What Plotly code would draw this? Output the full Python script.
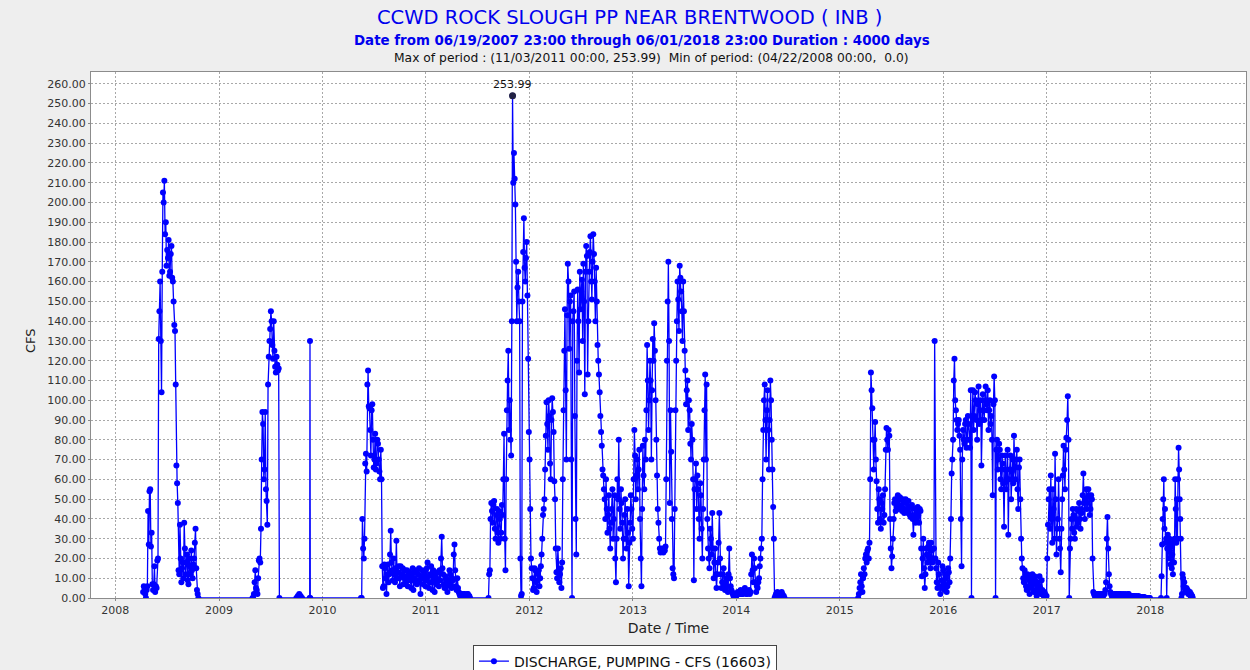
import pandas as pd
import plotly.graph_objects as go

# pumping record, one value every 2.5 days (2 days for spring 2018)
seg_2008_start, seg_2008_step = "2008-04-08", "60h"
cfs_2008 = [3, 6, 5, 2, 0, 4, 6, 44, 27, 54, 55, 26, 33, 7, 4, 7, 16, 3, 6, 5,
            19, 20, 131, 145, 160, 130, 104, 165, 205, 200, 211, 184, 190, 168, 176, 172, 181, 163, 165, 174,
            178, 162, 160, 150, 138, 135, 108, 67, 58, 48, 14, 12, 37, 20, 8, 15, 18, 10, 38, 25,
            12, 18, 22, 9, 7, 20, 16, 12, 24, 14, 10, 17, 20, 28, 35, 15, 4, 2, 0]

seg_2009_start, seg_2009_step = "2009-04-29", "60h"
cfs_2009 = [0, 0, 2, 8, 14, 5, 4, 2, 10, 19, 20, 18, 35, 70, 94, 88, 60, 65, 94, 55,
            49, 37, 108, 122, 130, 136, 145, 140, 128, 121, 140, 125, 117, 114, 122, 118, 115, 116, 0]

seg_2009b_start, seg_2009b_step = "2009-10-01", "5D"
cfs_2009b = [0, 1, 2, 1, 0]

seg_2009c_start, seg_2009c_step = "2009-11-17", "1D"
cfs_2009c = [0, 130, 0]

seg_2010_start, seg_2010_step = "2010-05-17", "60h"
cfs_2010 = [0, 0, 40, 25, 20, 30, 68, 73, 64, 108, 115, 97, 96, 85, 72, 95, 98, 80, 66, 70,
            83, 65, 68, 80, 78, 70, 64, 60, 75, 60, 16, 5, 6, 17, 15, 10, 2, 12, 17, 8,
            12, 22, 34, 18, 14, 9, 20, 12, 8, 15, 29, 10, 13, 16, 10, 6, 16, 11, 12, 15,
            7, 10, 14, 8, 11, 14, 6, 9, 13, 11, 9, 5, 12, 15, 4, 9, 10, 14, 13, 7,
            8, 12, 15, 9, 2, 10, 11, 14, 7, 12, 13, 6, 9, 15, 18, 11, 5, 8, 12, 16,
            8, 4, 14, 10, 3, 12, 10, 7, 13, 9, 6, 14, 9, 20, 31, 15, 12, 7, 5, 11,
            10, 6, 3, 9, 8, 14, 12, 7, 5, 10, 9, 22, 27, 14, 6, 4, 10, 5, 3, 2,
            1, 2, 2, 1, 1, 2, 2, 1, 1, 1, 2, 2, 1, 1, 0]

seg_2011_start, seg_2011_step = "2011-08-10", "60h"
cfs_2011 = [0, 12,
            14, 40, 48, 44, 38, 47, 49, 35, 30, 42, 45, 33, 28, 44, 40, 30, 33, 47, 42, 60,
            83, 30, 14, 60, 95, 110, 125, 85, 100, 80, 72, 140, 253.99, 210, 225, 212, 199, 170, 140, 157,
            165, 150, 140, 20, 1, 2, 150, 175, 192, 167, 160, 172, 180, 153, 121, 84, 70, 45, 20, 15,
            10, 4, 5, 15, 14, 8, 3, 9, 12, 14, 6, 10, 16, 22, 30, 42, 45, 50, 65, 82,
            99, 88, 75, 100, 92, 68, 60, 90, 101, 94, 84, 59, 50, 25, 13, 10, 25, 14, 8, 12,
            15, 5, 18, 60, 95, 125, 146, 105, 70, 143, 169, 160, 126, 150, 153, 70, 0, 140, 145, 155,
            92, 40, 22, 120, 156, 140, 114, 165, 146, 155, 161, 130, 169, 150, 103, 165, 178, 173, 113, 140,
            165, 175, 183, 160, 151, 170, 184, 174, 160, 140, 167, 150, 128, 120, 113, 104, 92, 84, 77, 65,
            62, 55, 50, 40, 60, 45, 33, 42, 52, 35, 25, 38, 45, 55, 30, 40, 52, 20, 8, 30,
            60, 50, 80, 45, 35, 55, 48, 38, 20, 30, 42, 50, 30, 25, 45, 33, 6, 28, 38, 52,
            45, 35, 30, 60, 85, 72, 50, 62, 70, 55, 65, 75, 40, 20, 6, 45, 77, 62, 55, 80,
            70, 95, 128, 110, 85, 100, 120, 110, 70, 105, 131, 120, 139, 125, 100, 80, 62, 45, 38, 30,
            25, 23, 24, 25, 24, 23, 25, 24, 26, 60, 120, 150, 170, 130, 48, 95, 74, 40, 15, 12,
            10, 45, 95, 120, 140, 160, 151, 135, 168, 162, 155, 145, 130, 160, 145, 125, 115, 98, 105, 110,
            85, 100, 95, 78, 70, 88, 80, 60, 9, 55, 60, 68, 45, 62, 55, 40, 30, 58, 52, 35,
            20, 45, 70, 95, 113, 70, 108, 40, 25, 20, 15, 35, 30, 22, 43, 25, 10, 18, 25, 12,
            5, 12, 18, 28, 43, 20, 12, 5, 8, 12, 15, 7, 4, 8, 10, 6, 3, 12, 25, 10,
            6, 4, 3, 2, 1, 2, 2, 1, 1, 2, 3, 2, 2, 3, 4, 2, 2, 2, 3, 4,
            5, 3, 2, 2, 3, 3, 4, 2, 3, 12, 22, 14, 8, 20, 15, 8, 3, 6, 5, 8,
            10, 16, 20, 25, 30, 60, 85, 100, 108, 90, 70, 95, 105, 85, 65, 90, 110, 100, 80, 65,
            46, 30, 0, 1, 2, 2, 3, 2, 0, 1, 2, 2, 3, 2, 1, 1, 0]

seg_2015_start, seg_2015_step = "2015-03-07", "60h"
cfs_2015 = [0, 2,
            5, 8, 12, 6, 3, 10, 15, 12, 20, 22, 18, 24, 25, 20, 28, 60, 114, 105, 96, 80,
            65, 80, 89, 70, 59, 45, 38, 55, 50, 40, 35, 48, 45, 52, 38, 42, 55, 75, 86, 80,
            75, 85, 82, 40, 25, 15, 21, 30, 40, 48, 50, 44, 46, 50, 52, 45, 47, 51, 50, 46,
            44, 50, 49, 43, 45, 50, 48, 44, 43, 49, 46, 42, 41, 46, 47, 40, 32, 42, 45, 38,
            40, 44, 46, 42, 38, 45, 44, 25, 11, 20, 30, 15, 5, 12, 25, 22, 18, 26, 28, 20,
            15, 28, 24, 18, 20, 25, 130, 20, 15, 8, 5, 18, 12, 6, 2, 5, 9, 16, 14, 7,
            4, 12, 10, 3, 6, 15, 13, 8, 20, 40, 63, 70, 80, 110, 121, 100, 95, 90, 85, 88,
            90, 82, 75, 40, 16, 70, 85, 80, 78, 88, 90, 76, 80, 92, 88, 80, 76, 105, 0, 92,
            105, 85, 92, 104, 100, 90, 80, 98, 107, 88, 95, 100, 67, 90, 103, 95, 90, 100, 107, 98,
            95, 105, 85, 95, 100, 88, 92, 80, 52, 98, 112, 100, 0, 75, 80, 65, 70, 78, 75, 60,
            55, 72, 68, 58, 36, 65, 72, 55, 60, 75, 32, 60, 65, 72, 50, 64, 70, 58, 82, 66,
            60, 70, 75, 55, 45, 66, 70, 50, 30, 20, 15, 10, 8, 14, 12, 6, 4, 12, 10, 5,
            2, 10, 8, 5, 12, 7, 3, 11, 9, 4, 1, 8, 6, 3, 11, 5, 2, 9, 4, 2,
            1, 3, 2, 1, 1, 20, 37, 50, 55, 35, 62, 40, 28, 55, 45, 30, 73, 50, 22, 35,
            40, 60, 30, 25, 13, 35, 50, 62, 77, 65, 55, 75, 81, 90, 102, 80, 0, 25, 30, 40,
            35, 45, 42, 33, 30, 40, 45, 36, 38, 44, 48, 40, 35, 45, 43, 52, 63, 48, 40, 50,
            55, 45, 48, 55, 52, 42, 45, 52, 50, 20, 3, 2, 1, 2, 2, 1, 1, 2, 2, 1,
            1, 2, 2, 1, 1, 2, 2, 4, 8, 30, 41, 25, 12, 6, 3, 2, 1, 2, 1, 1,
            2, 1, 2, 2, 1, 1, 2, 2, 1, 2, 1, 1, 2, 1, 1, 2, 1, 1, 1, 2,
            2, 1, 1, 1, 1, 1, 0.5, 1, 1, 0.5, 0.5, 1, 0.5, 0.5, 1, 0.5, 0.5, 0.5, 0.5, 0.5,
            0.5, 0.5, 0.5, 0, 0, 0, 0, 0, 0, 0, 0]

seg_2018_start, seg_2018_step = "2018-02-08", "2D"
cfs_2018 = [0, 11, 27, 40, 50, 60, 35, 45, 28, 30, 0, 25, 32, 28, 20, 30, 24, 17, 26, 15,
            22, 12, 28, 18, 30, 60, 45, 28, 50, 30, 60, 76, 65, 50, 40, 30, 0, 2, 12, 10,
            6, 8, 5, 4, 3, 5, 3, 4, 2, 3, 2, 3, 1, 2, 1, 1, 0]

segments = [
    (seg_2008_start, seg_2008_step, cfs_2008),
    (seg_2009_start, seg_2009_step, cfs_2009),
    (seg_2009b_start, seg_2009b_step, cfs_2009b),
    (seg_2009c_start, seg_2009c_step, cfs_2009c),
    (seg_2010_start, seg_2010_step, cfs_2010),
    (seg_2011_start, seg_2011_step, cfs_2011),
    (seg_2015_start, seg_2015_step, cfs_2015),
    (seg_2018_start, seg_2018_step, cfs_2018),
]

parts = []
for start, step, vals in segments:
    idx = pd.date_range(start, periods=len(vals), freq=step)
    parts.append(pd.Series(vals, index=idx))
df = pd.concat(parts)

peak_date = df.idxmax()
peak_val = df.max()

blue = "#0000FF"
fig = go.Figure()
fig.add_trace(go.Scatter(
    x=df.index, y=df.values, mode="lines+markers",
    name="DISCHARGE, PUMPING - CFS (16603)",
    line=dict(color=blue, width=1.3),
    marker=dict(color=blue, size=6),
))
fig.add_trace(go.Scatter(
    x=[peak_date], y=[peak_val], mode="markers", showlegend=False,
    marker=dict(color="#222244", size=7),
))
fig.add_annotation(x=peak_date, y=peak_val, text=f"{peak_val:.2f}", showarrow=False,
                   yshift=11, font=dict(family="DejaVu Sans", size=11, color="#111"))

title_font = "DejaVu Sans, sans-serif"
fig.add_annotation(xref="paper", yref="paper", x=0.466, y=1.1027, showarrow=False,
                   xanchor="center", yanchor="middle",
                   text="CCWD ROCK SLOUGH PP NEAR BRENTWOOD ( INB )",
                   font=dict(family=title_font, size=19.5, color="#0000EE"))
fig.add_annotation(xref="paper", yref="paper", x=0.477, y=1.0608, showarrow=False,
                   xanchor="center", yanchor="middle",
                   text="<b>Date from 06/19/2007 23:00 through 06/01/2018 23:00 Duration : 4000 days</b>",
                   font=dict(family=title_font, size=13.4, color="#0000EE"))
fig.add_annotation(xref="paper", yref="paper", x=0.485, y=1.0266, showarrow=False,
                   xanchor="center", yanchor="middle",
                   text="Max of period : (11/03/2011 00:00, 253.99)  Min of period: (04/22/2008 00:00,  0.0)",
                   font=dict(family=title_font, size=12.3, color="#111"))
fig.add_annotation(xref="paper", yref="paper", x=-0.053, y=0.49, showarrow=False,
                   xanchor="center", yanchor="middle",
                   text="CFS", textangle=-90,
                   font=dict(family="DejaVu Sans", size=13, color="#222"))

grid = dict(showgrid=True, gridcolor="#a8a8a8", gridwidth=1, griddash="2px,2px",
            showline=True, linecolor="#8c8c8c", linewidth=1, mirror=True,
            ticks="outside", ticklen=2, tickcolor="#888", zeroline=False,
            tickfont=dict(family="DejaVu Sans", size=11, color="#333"))

fig.update_xaxes(type="date", range=["2007-10-07", "2018-12-05"], dtick="M12",
                 tick0="2008-01-01", tickformat="%Y",
                 title=dict(text="Date / Time", standoff=6,
                            font=dict(family="DejaVu Sans", size=14, color="#222")),
                 **grid)
fig.update_yaxes(range=[0, 266], dtick=10, tick0=0, tickformat=".2f", **grid)

fig.update_layout(
    width=1250, height=670,
    margin=dict(l=91, r=4, t=72, b=72, autoexpand=False),
    paper_bgcolor="#EEEEEE", plot_bgcolor="white",
    showlegend=True,
    legend=dict(orientation="h", x=0.4623, xanchor="center", y=-0.0885, yanchor="top",
                bgcolor="white", bordercolor="#444", borderwidth=1,
                font=dict(family="DejaVu Sans", size=14, color="#111"),
                itemwidth=30, tracegroupgap=0),
)

# the page body has an 8px default margin; drop it so the figure sits at the window corner
fig.write_html("out.html", config={"displayModeBar": False},
               post_script="document.body.style.margin='0';document.body.style.background='#EEEEEE';")
